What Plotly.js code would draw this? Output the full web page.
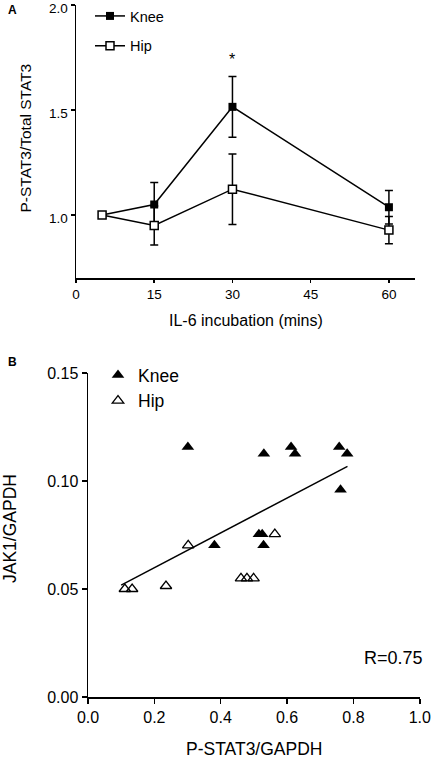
<!DOCTYPE html>
<html>
<head>
<meta charset="utf-8">
<script src="https://cdn.plot.ly/plotly-3.0.1.min.js"></script>
<style>html,body{margin:0;padding:0;background:#fff;}#chart{width:432px;height:760px;}</style>
</head>
<body>
<div id="chart"></div>
<script>
// Panel A: time course
const timeMins = [5, 15, 30, 60];
const kneeRatio = [1.0, 1.05, 1.515, 1.037];
const kneeErr = [0, 0.105, 0.145, 0.08];
const hipRatio = [1.0, 0.95, 1.123, 0.928];
const hipErr = [0, 0.093, 0.168, 0.065];
const xTicksA = [0, 15, 30, 45, 60];
const yTicksA = [1.0, 1.5, 2.0];
const yTickTextA = ['1.0', '1.5', '2.0'];

// Panel B: correlation
const kneeX = [0.301, 0.530, 0.612, 0.624, 0.757, 0.781, 0.761, 0.381, 0.515, 0.525, 0.529];
const kneeY = [0.1157, 0.1126, 0.1158, 0.1126, 0.1158, 0.1126, 0.0960, 0.0703, 0.0754, 0.0754, 0.0702];
const hipX = [0.111, 0.133, 0.235, 0.302, 0.461, 0.479, 0.499, 0.563];
const hipY = [0.0500, 0.0500, 0.0514, 0.0702, 0.0549, 0.0549, 0.0549, 0.0754];
const fitX = [0.10, 0.782];
const fitY = [0.0518, 0.1068];
const xTicksB = [0, 0.2, 0.4, 0.6, 0.8, 1.0];
const xTickTextB = ['0.0', '0.2', '0.4', '0.6', '0.8', '1.0'];
const yTicksB = [0, 0.05, 0.10, 0.15];
const yTickTextB = ['0.00', '0.05', '0.10', '0.15'];

const FONT = 'Arial, "Liberation Sans", Helvetica, sans-serif';

const traces = [
  {x: timeMins, y: kneeRatio, name: 'Knee', mode: 'lines+markers', xaxis: 'x', yaxis: 'y', legend: 'legend', legendgroup: 'a1',
   line: {color: '#000', width: 1.5},
   marker: {symbol: 'square', size: 8, color: '#000'},
   error_y: {type: 'data', array: kneeErr, visible: true, color: '#000', thickness: 1.5, width: 4}},
  {x: timeMins, y: hipRatio, name: 'Hip', mode: 'lines+markers', xaxis: 'x', yaxis: 'y', legend: 'legend', legendgroup: 'a2',
   line: {color: '#000', width: 1.5},
   marker: {symbol: 'square', size: 8, color: '#fff', line: {color: '#000', width: 1.5}},
   error_y: {type: 'data', array: hipErr, visible: true, color: '#000', thickness: 1.5, width: 4}},
  {x: fitX, y: fitY, mode: 'lines', xaxis: 'x2', yaxis: 'y2', showlegend: false,
   line: {color: '#000', width: 1.5}, hoverinfo: 'skip'},
  {x: kneeX, y: kneeY, name: 'Knee', mode: 'markers', xaxis: 'x2', yaxis: 'y2', legend: 'legend2',
   marker: {symbol: 'triangle-up', size: 11, color: '#000'}},
  {x: hipX, y: hipY, name: 'Hip', mode: 'markers', xaxis: 'x2', yaxis: 'y2', legend: 'legend2',
   marker: {symbol: 'triangle-up-open', size: 10, color: '#000', line: {width: 1.3}}}
];

const axisCommon = {showgrid: false, zeroline: false, showline: true, linecolor: '#000', linewidth: 1.5,
  ticks: 'outside', tickcolor: '#000', tickwidth: 1.5, fixedrange: true, ticklabeloverflow: 'allow'};

const layout = {
  width: 432, height: 760,
  margin: {l: 0, r: 0, t: 0, b: 0},
  paper_bgcolor: '#fff', plot_bgcolor: '#fff',
  font: {family: FONT, color: '#000'},
  showlegend: true,
  xaxis: Object.assign({}, axisCommon, {
    domain: [76/432, 415/432], range: [0, 65], anchor: 'y',
    tickvals: xTicksA, ticklen: 3, tickfont: {size: 13.5}
  }),
  yaxis: Object.assign({}, axisCommon, {
    domain: [1 - 278/760, 1 - 4.9/760], range: [0.7, 2.0005], anchor: 'x',
    tickvals: yTicksA, ticktext: yTickTextA, ticklen: 4, tickfont: {size: 13.5}, ticklabelshift: 3
  }),
  xaxis2: Object.assign({}, axisCommon, {
    domain: [88/432, 420/432], range: [0, 1.0005], anchor: 'y2',
    tickvals: xTicksB, ticktext: xTickTextB, ticklen: 5, tickfont: {size: 16}
  }),
  yaxis2: Object.assign({}, axisCommon, {
    domain: [1 - 697/760, 1 - 372.9/760], range: [0, 0.15005], anchor: 'x2',
    tickvals: yTicksB, ticktext: yTickTextB, ticklen: 5, tickfont: {size: 16}
  }),
  legend: {x: 90/432, y: 1 - 0/760, xanchor: 'left', yanchor: 'top', bgcolor: 'rgba(0,0,0,0)',
    font: {size: 14.5}, itemwidth: 30, tracegroupgap: 8},
  legend2: {x: 98/432, y: 1 - 357/760, xanchor: 'left', yanchor: 'top', bgcolor: 'rgba(0,0,0,0)',
    font: {size: 17.5}, itemwidth: 30, tracegroupgap: 0},
  annotations: [
    {xref: 'x', yref: 'y', x: 30, y: 1.74, text: '*', showarrow: false, font: {size: 16}},
    {xref: 'paper', yref: 'paper', x: 393/432, y: 1 - 658/760, xanchor: 'center', yanchor: 'middle',
     text: 'R=0.75', showarrow: false, font: {size: 18}},
    {xref: 'paper', yref: 'paper', x: 6/432, y: 1 - 10/760, xanchor: 'left', yanchor: 'middle', text: '<b>A</b>', showarrow: false, font: {size: 12}},
    {xref: 'paper', yref: 'paper', x: 6/432, y: 1 - 362/760, xanchor: 'left', yanchor: 'middle', text: '<b>B</b>', showarrow: false, font: {size: 12}},
    // axis titles
    {xref: 'paper', yref: 'paper', x: 245.5/432, y: 1 - 320/760, xanchor: 'center', yanchor: 'middle',
     text: 'IL-6 incubation (mins)', showarrow: false, font: {size: 16}},
    {xref: 'paper', yref: 'paper', x: 24.5/432, y: 1 - 138/760, xanchor: 'center', yanchor: 'middle', textangle: -90,
     text: 'P-STAT3/Total STAT3', showarrow: false, font: {size: 15.5}},
    {xref: 'paper', yref: 'paper', x: 254/432, y: 1 - 749/760, xanchor: 'center', yanchor: 'middle',
     text: 'P-STAT3/GAPDH', showarrow: false, font: {size: 17.5}},
    {xref: 'paper', yref: 'paper', x: 10/432, y: 1 - 529/760, xanchor: 'center', yanchor: 'middle', textangle: -90,
     text: 'JAK1/GAPDH', showarrow: false, font: {size: 17.5}}
  ]
};

Plotly.newPlot('chart', traces, layout, {staticPlot: true, displayModeBar: false});
</script>
</body>
</html>
